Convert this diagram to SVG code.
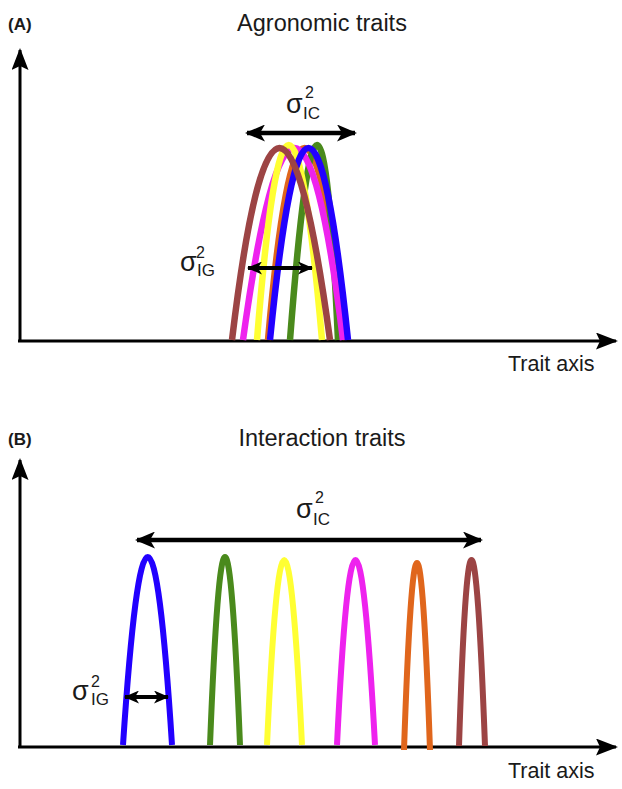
<svg xmlns="http://www.w3.org/2000/svg" width="622" height="789" viewBox="0 0 622 789">
<style>
.t{font-family:"Liberation Sans",Arial,sans-serif;fill:#1a1a1a}
.lab{font-size:17px;font-weight:bold}
.ttl{font-size:23.5px}
.ax{font-size:21.5px}
.sig{font-size:27px}
.sup{font-size:16px}
.sub{font-size:17px}
.axis{stroke:#000;stroke-width:3;fill:none}
.dbl{stroke:#000;stroke-width:4.5;fill:none}
.dbl2{stroke:#000;stroke-width:4;fill:none}
.c{fill:none;stroke-width:6;stroke-linecap:butt}
.ca{stroke-width:6.5}
</style>
<defs>
<marker id="ah" viewBox="0 0 22 17" refX="20" refY="8.5" markerWidth="22" markerHeight="17" orient="auto" markerUnits="userSpaceOnUse"><path d="M0,0 L22,8.5 L0,17 L4,8.5 Z" fill="#000"/></marker>
<marker id="ah2" viewBox="0 0 20 17" refX="18" refY="8.5" markerWidth="20" markerHeight="17" orient="auto-start-reverse" markerUnits="userSpaceOnUse"><path d="M0,0 L20,8.5 L0,17 L5,8.5 Z" fill="#000"/></marker>
<marker id="ah3" viewBox="0 0 15 13" refX="14" refY="6.5" markerWidth="15" markerHeight="13" orient="auto-start-reverse" markerUnits="userSpaceOnUse"><path d="M0,0 L15,6.5 L0,13 L4,6.5 Z" fill="#000"/></marker>
</defs>

<!-- Panel A -->
<g id="panelA-labels">
<text class="t lab" x="8" y="30">(A)</text>
<text class="t ttl" x="322" y="31" text-anchor="middle">Agronomic traits</text>
<text class="t ax" x="508" y="371">Trait axis</text>
</g>
<g id="connectors">
<path class="axis" d="M20,342 V50" marker-end="url(#ah)"/>
<path class="axis" d="M18,341 H616" marker-end="url(#ah)"/>
<path class="axis" d="M20,748 V460" marker-end="url(#ah)"/>
<path class="axis" d="M18,747 H616" marker-end="url(#ah)"/>
</g>
<g id="curvesA">
<path class="c ca" stroke="#e0661c" d="M268,340 Q302,-44 346,340"/>
<path class="c ca" stroke="#4a8a1c" d="M290,340 Q320,-50 338,340"/>
<path class="c ca" stroke="#ee22ee" d="M243,340 Q296,-44 343,340"/>
<path class="c ca" stroke="#ffff33" d="M257,340 Q288,-50 322,340"/>
<path class="c ca" stroke="#2200ff" d="M270,340 Q308,-44 348,340"/>
<path class="c ca" stroke="#9c4444" d="M232,340 Q278,-44 330,340"/>
</g>
<g id="sigmaIC-A">
<path class="dbl" d="M247,133 H355" marker-start="url(#ah2)" marker-end="url(#ah2)"/>
<text class="t sig" x="286" y="113">σ</text>
<text class="t sup" x="305" y="98">2</text>
<text class="t sub" x="303" y="119">IC</text>
</g>
<g id="sigmaIG-A">
<path class="dbl2" d="M248,268 H312" marker-start="url(#ah3)" marker-end="url(#ah3)"/>
<text class="t sig" x="180" y="271">σ</text>
<text class="t sup" x="196" y="258">2</text>
<text class="t sub" x="197" y="276">IG</text>
</g>

<!-- Panel B -->
<g id="panelB-labels">
<text class="t lab" x="8" y="445">(B)</text>
<text class="t ttl" x="322" y="446" text-anchor="middle">Interaction traits</text>
<text class="t ax" x="508" y="778">Trait axis</text>
</g>
<g id="curvesB">
<path class="c" stroke="#2200ff" d="M123,745 Q148,369 172,745"/>
<path class="c" stroke="#4a8a1c" d="M210,745 Q225,369 240,745"/>
<path class="c" stroke="#ffff33" d="M267,745 Q284,375 302,745"/>
<path class="c" stroke="#ee22ee" d="M337,745 Q355,375 375,745"/>
<path class="c" stroke="#e0661c" d="M404,750 Q417,376 430,750"/>
<path class="c" stroke="#9c4444" d="M459,746 Q471,374 485,746"/>
</g>
<g id="sigmaIC-B">
<path class="dbl" d="M137,540 H481" marker-start="url(#ah2)" marker-end="url(#ah2)"/>
<text class="t sig" x="296" y="518">σ</text>
<text class="t sup" x="315" y="503">2</text>
<text class="t sub" x="313" y="525">IC</text>
</g>
<g id="sigmaIG-B">
<path class="dbl2" d="M125,697 H168" marker-start="url(#ah3)" marker-end="url(#ah3)"/>
<text class="t sig" x="72" y="700">σ</text>
<text class="t sup" x="91" y="687">2</text>
<text class="t sub" x="91" y="705">IG</text>
</g>
</svg>
